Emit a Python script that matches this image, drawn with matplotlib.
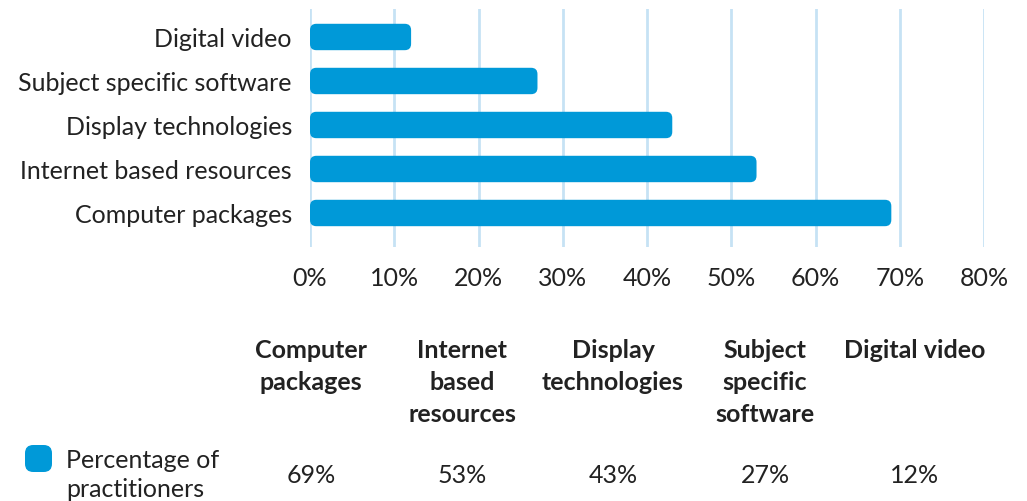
import matplotlib.pyplot as plt
from matplotlib.patches import FancyBboxPatch

# Data (bottom to top on the chart)
categories = ['Computer packages', 'Internet based resources', 'Display technologies',
              'Subject specific software', 'Digital video']
values = [69, 53, 43, 27, 12]
table_headers = ['Computer\npackages', 'Internet\nbased\nresources', 'Display\ntechnologies',
                 'Subject\nspecific\nsoftware', 'Digital video']
series_name = 'Percentage of\npractitioners'

bar_color = '#0099d8'
grid_color = '#c6e2f4'
text_color = '#222222'
plt.rcParams['font.family'] = ['Lato', 'DejaVu Sans']

W, H = 1027, 502
fig = plt.figure(figsize=(W / 100, H / 100), dpi=100)
ax = fig.add_axes([310 / W, 1 - 248 / H, (984 - 310) / W, (248 - 10) / H])

# Rounded bars
bar_h = 0.6
px_x = (984 - 310) / 80
px_y = 44
rad = 0.75
for i, v in enumerate(values):
    p = FancyBboxPatch((0, i - bar_h / 2), v, bar_h,
                       boxstyle=f'round,pad=0,rounding_size={rad}',
                       mutation_aspect=px_x / px_y,
                       facecolor=bar_color, edgecolor='none', zorder=3)
    ax.add_patch(p)

ax.set_xlim(0, 80)
ax.set_ylim(-0.773, 4.636)
ax.set_xticks(range(0, 81, 10))
ax.set_xticklabels([f'{t}%' for t in range(0, 81, 10)])
ax.set_yticks(range(len(categories)))
ax.set_yticklabels(categories)
ax.tick_params(axis='both', length=0, labelsize=18, colors=text_color)
ax.tick_params(axis='x', pad=14)
ax.tick_params(axis='y', pad=13)
ax.grid(axis='x', color=grid_color, linewidth=2, zorder=0)
for s in ax.spines.values():
    s.set_visible(False)

# Data table below the chart
col_x = [311, 462, 613, 765, 915]
for x, hdr, v in zip(col_x, table_headers, values):
    fig.text(x / W, 1 - 339 / H, hdr, ha='center', va='top', fontsize=18,
             fontweight='bold', color=text_color, linespacing=1.48)
    fig.text(x / W, 1 - 476 / H, f'{v}%', ha='center', va='center', fontsize=18,
             color=text_color)

# Legend swatch
sw = FancyBboxPatch((25 / W, 1 - 473 / H), 27 / W, 27 / H,
                    boxstyle='round,pad=0,rounding_size=0.008',
                    mutation_aspect=W / H,
                    transform=fig.transFigure, facecolor=bar_color, edgecolor='none')
fig.patches.append(sw)
fig.text(66 / W, 1 - 475 / H, series_name, ha='left', va='center', fontsize=18,
         color=text_color, linespacing=1.3)

fig.savefig('out.png', dpi=100)
